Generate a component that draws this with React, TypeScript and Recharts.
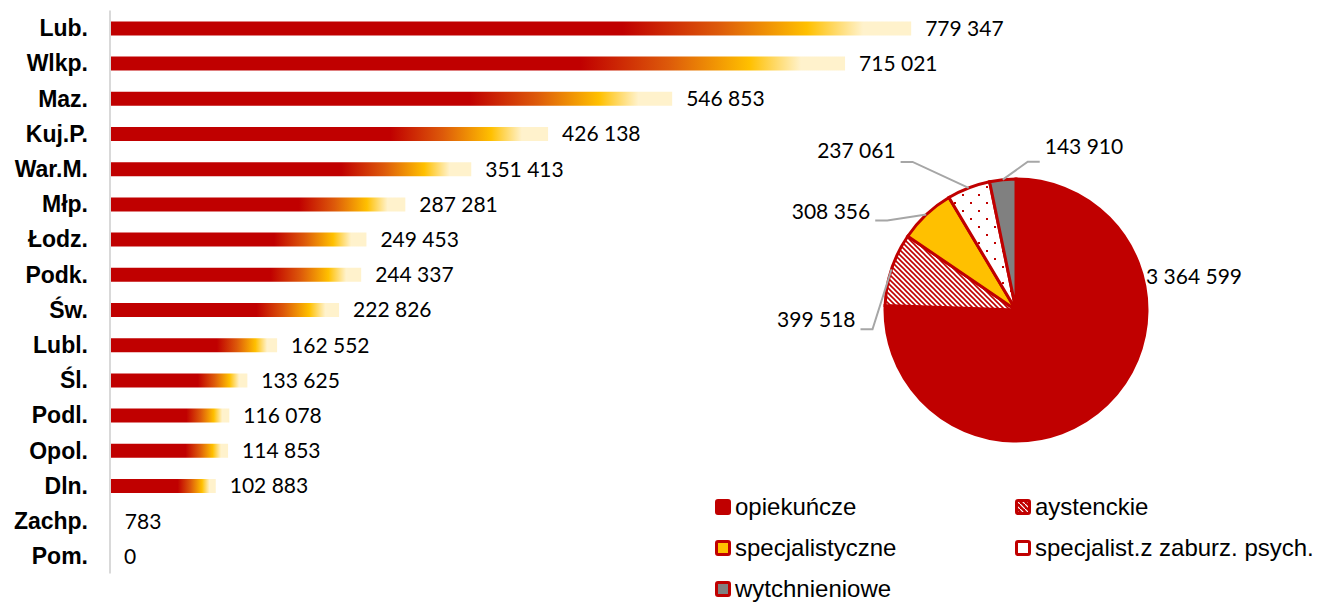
import React from 'react';
import { BarChart, Bar, XAxis, YAxis, LabelList, PieChart, Pie, Cell } from 'recharts';

const REGIONS = ['Lub.', 'Wlkp.', 'Maz.', 'Kuj.P.', 'War.M.', 'Młp.', 'Łodz.', 'Podk.', 'Św.', 'Lubl.', 'Śl.', 'Podl.', 'Opol.', 'Dln.', 'Zachp.', 'Pom.'];
const REGION_VALUES = [779347, 715021, 546853, 426138, 351413, 287281, 249453, 244337, 222826, 162552, 133625, 116078, 114853, 102883, 783, 0];

const TYPES = ['opiekuńcze', 'aystenckie', 'specjalistyczne', 'specjalist.z zaburz. psych.', 'wytchnieniowe'];
const TYPE_VALUES = [3364599, 399518, 308356, 237061, 143910];
const TYPE_FILLS = ['#C00000', 'url(#hatch)', '#FFC000', 'url(#dots)', '#808080'];

const RED = '#C00000';
const VALUE_FONT = 'Lato, "Open Sans", sans-serif';
const SANS = '"Liberation Sans", Arial, sans-serif';

const barData = REGIONS.map((name, i) => ({ name, value: REGION_VALUES[i] }));
const pieData = TYPES.map((name, i) => ({ name, value: TYPE_VALUES[i] }));

const fmt = (v: number) => String(v).replace(/\B(?=(\d{3})+(?!\d))/g, ' ');

// elbow offset from the slice edge point, and which side the label sits on
const LABEL_LAYOUT: { dx: number; dy: number; side: number; ty: number }[] = [
  { dx: 39, dy: -128, side: 0, ty: 0 },
  { dx: -19, dy: 60, side: -1, ty: -10 },
  { dx: -39, dy: 6, side: -1, ty: -9 },
  { dx: -56, dy: -26, side: -1, ty: -11 },
  { dx: 25, dy: -18, side: 1, ty: -15 },
];

const RAD = Math.PI / 180;

function PieLabel(props: any) {
  const { cx, cy, midAngle, outerRadius, index, value } = props;
  const px = cx + outerRadius * Math.cos(midAngle * RAD);
  const py = cy - outerRadius * Math.sin(midAngle * RAD);
  const l = LABEL_LAYOUT[index];
  const ex = px + l.dx;
  const ey = py + l.dy;
  if (l.side === 0) {
    return (
      <text x={ex} y={ey} dy="0.35em" textAnchor="start" fontFamily={VALUE_FONT} fontSize={21} fill="#000">
        {fmt(value)}
      </text>
    );
  }
  const tx = ex + l.side * 12;
  return (
    <g>
      <polyline points={`${px},${py} ${ex},${ey} ${tx},${ey}`} fill="none" stroke="#A6A6A6" strokeWidth={2} />
      <text
        x={tx + l.side * 5}
        y={ey + l.ty}
        dy="0.35em"
        textAnchor={l.side < 0 ? 'end' : 'start'}
        fontFamily={VALUE_FONT}
        fontSize={21}
        fill="#000"
      >
        {fmt(value)}
      </text>
    </g>
  );
}

function LegendMarker({ fill }: { fill: string }) {
  return (
    <svg width={16} height={16} style={{ display: 'block' }}>
      <defs>
        <pattern id="hatchL" width={5} height={5} patternUnits="userSpaceOnUse">
          <rect width={5} height={5} fill={RED} />
          <path d="M0,0 L5,5" stroke="#fff" strokeWidth={1.2} />
        </pattern>
      </defs>
      <rect x={1.5} y={1.5} width={13} height={13} rx={1.5} fill={fill} stroke={RED} strokeWidth={3} />
    </svg>
  );
}

const LEGEND_FILLS = [RED, 'url(#hatchL)', '#FFC000', '#FFFFFF', '#808080'];

export default function App() {
  return (
    <div style={{ position: 'absolute', left: 0, top: 0, width: 1319, height: 603, background: '#fff', overflow: 'hidden' }}>
      <div style={{ position: 'absolute', left: 0, top: 0 }}>
        <BarChart
          width={1150}
          height={603}
          data={barData}
          layout="vertical"
          margin={{ top: 10.4, right: 12, bottom: 29.4, left: 0 }}
          barSize={14}
        >
          <defs>
            <linearGradient id="barGrad" x1="0" y1="0" x2="1" y2="0">
              <stop offset="0" stopColor="#C00000" />
              <stop offset="0.64" stopColor="#C00000" />
              <stop offset="0.76" stopColor="#DD5A0A" />
              <stop offset="0.87" stopColor="#FFC000" />
              <stop offset="0.94" stopColor="#FFF2CC" />
              <stop offset="1" stopColor="#FFF2CC" />
            </linearGradient>
          </defs>
          <XAxis type="number" domain={[0, 1000000]} hide />
          <YAxis
            type="category"
            dataKey="name"
            width={110}
            tickLine={false}
            tickSize={0}
            tickMargin={22}
            axisLine={{ stroke: '#D9D9D9', strokeWidth: 2 }}
            tick={{ fontFamily: SANS, fontWeight: 700, fontSize: 23, fill: '#000' }}
            interval={0}
          />
          <Bar dataKey="value" fill="url(#barGrad)" minPointSize={0.01} isAnimationActive={false}>
            <LabelList
              dataKey="value"
              position="right"
              offset={14}
              formatter={(v: any) => fmt(Number(v))}
              style={{ fontFamily: VALUE_FONT, fontSize: 21, fill: '#000' }}
            />
          </Bar>
        </BarChart>
      </div>

      <div style={{ position: 'absolute', left: 0, top: 0 }}>
        <PieChart width={1319} height={603}>
          <defs>
            <pattern id="hatch" width={5} height={5} patternUnits="userSpaceOnUse">
              <rect width={5} height={5} fill="#fff" />
              <path d="M0,0 L5,5 M-1,4 L1,6 M4,-1 L6,1" stroke={RED} strokeWidth={1.6} />
            </pattern>
            <pattern id="dots" width={16} height={16} patternUnits="userSpaceOnUse">
              <rect width={16} height={16} fill="#fff" />
              <rect x={2} y={2} width={2} height={2} fill={RED} />
              <rect x={10} y={10} width={2} height={2} fill={RED} />
            </pattern>
          </defs>
          <Pie
            data={pieData}
            dataKey="value"
            cx={1011}
            cy={305}
            outerRadius={131}
            startAngle={90}
            endAngle={-270}
            stroke={RED}
            strokeWidth={3}
            labelLine={false}
            label={PieLabel}
            isAnimationActive={false}
          >
            {pieData.map((d, i) => (
              <Cell key={d.name} fill={TYPE_FILLS[i]} />
            ))}
          </Pie>
        </PieChart>
      </div>

      <div
        style={{
          position: 'absolute',
          left: 715,
          top: 493,
          width: 600,
          display: 'grid',
          gridTemplateColumns: '300px 300px',
          rowGap: 13,
          fontFamily: SANS,
          fontSize: 24,
          color: '#000',
        }}
      >
        {TYPES.map((t, i) => (
          <div key={t} style={{ display: 'flex', alignItems: 'center', height: 28, gap: 4 }}>
            <LegendMarker fill={LEGEND_FILLS[i]} />
            <span style={{ lineHeight: '28px', whiteSpace: 'nowrap' }}>{t}</span>
          </div>
        ))}
      </div>
    </div>
  );
}
